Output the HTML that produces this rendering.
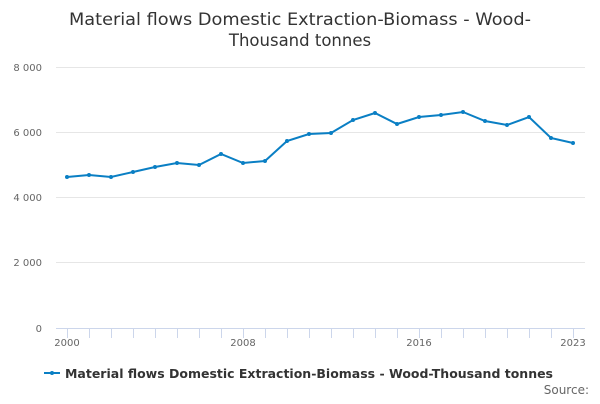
<!DOCTYPE html>
<html><head><meta charset="utf-8"><style>
body{margin:0;background:#fff;width:600px;height:400px;overflow:hidden;font-family:"DejaVu Sans",sans-serif}
</style></head><body>
<svg width="600" height="400" xmlns="http://www.w3.org/2000/svg" font-family="DejaVu Sans, sans-serif">
<text x="300" y="25" text-anchor="middle" font-size="16.5" fill="#333" textLength="462" lengthAdjust="spacingAndGlyphs">Material flows Domestic Extraction-Biomass - Wood-</text>
<text x="300" y="46" text-anchor="middle" font-size="16.5" fill="#333">Thousand tonnes</text>
<g stroke="#e6e6e6" stroke-width="1">
<line x1="56" x2="585" y1="67.5" y2="67.5"/>
<line x1="56" x2="585" y1="132.5" y2="132.5"/>
<line x1="56" x2="585" y1="197.5" y2="197.5"/>
<line x1="56" x2="585" y1="262.5" y2="262.5"/>
</g>
<line x1="56" x2="585" y1="328.5" y2="328.5" stroke="#ccd6eb"/>
<g stroke="#ccd6eb">
<line x1="67.5" x2="67.5" y1="328" y2="338"/><line x1="89.5" x2="89.5" y1="328" y2="338"/><line x1="111.5" x2="111.5" y1="328" y2="338"/><line x1="133.5" x2="133.5" y1="328" y2="338"/><line x1="155.5" x2="155.5" y1="328" y2="338"/><line x1="177.5" x2="177.5" y1="328" y2="338"/><line x1="199.5" x2="199.5" y1="328" y2="338"/><line x1="221.5" x2="221.5" y1="328" y2="338"/><line x1="243.5" x2="243.5" y1="328" y2="338"/><line x1="265.5" x2="265.5" y1="328" y2="338"/><line x1="287.5" x2="287.5" y1="328" y2="338"/><line x1="309.5" x2="309.5" y1="328" y2="338"/><line x1="331.5" x2="331.5" y1="328" y2="338"/><line x1="353.5" x2="353.5" y1="328" y2="338"/><line x1="375.5" x2="375.5" y1="328" y2="338"/><line x1="397.5" x2="397.5" y1="328" y2="338"/><line x1="419.5" x2="419.5" y1="328" y2="338"/><line x1="441.5" x2="441.5" y1="328" y2="338"/><line x1="463.5" x2="463.5" y1="328" y2="338"/><line x1="485.5" x2="485.5" y1="328" y2="338"/><line x1="507.5" x2="507.5" y1="328" y2="338"/><line x1="529.5" x2="529.5" y1="328" y2="338"/><line x1="551.5" x2="551.5" y1="328" y2="338"/><line x1="573.5" x2="573.5" y1="328" y2="338"/>
</g>
<g font-size="10" fill="#666" text-anchor="end">
<text x="42" y="71">8 000</text><text x="42" y="136">6 000</text><text x="42" y="201">4 000</text><text x="42" y="266">2 000</text><text x="42" y="332">0</text>
</g>
<g font-size="10" fill="#666" text-anchor="middle">
<text x="67" y="346">2000</text><text x="243" y="346">2008</text><text x="419" y="346">2016</text><text x="573" y="346">2023</text>
</g>
<polyline fill="none" stroke="#0a7fc4" stroke-width="2" points="67,177 89,175 111,177 133,172 155,167 177,163 199,165 221,154 243,163 265,161 287,141 309,134 331,133 353,120 375,113 397,124 419,117 441,115 463,112 485,121 507,125 529,117 551,138 573,143"/>
<g fill="#0a7fc4">
<circle cx="67" cy="177" r="2"/><circle cx="89" cy="175" r="2"/><circle cx="111" cy="177" r="2"/><circle cx="133" cy="172" r="2"/><circle cx="155" cy="167" r="2"/><circle cx="177" cy="163" r="2"/><circle cx="199" cy="165" r="2"/><circle cx="221" cy="154" r="2"/><circle cx="243" cy="163" r="2"/><circle cx="265" cy="161" r="2"/><circle cx="287" cy="141" r="2"/><circle cx="309" cy="134" r="2"/><circle cx="331" cy="133" r="2"/><circle cx="353" cy="120" r="2"/><circle cx="375" cy="113" r="2"/><circle cx="397" cy="124" r="2"/><circle cx="419" cy="117" r="2"/><circle cx="441" cy="115" r="2"/><circle cx="463" cy="112" r="2"/><circle cx="485" cy="121" r="2"/><circle cx="507" cy="125" r="2"/><circle cx="529" cy="117" r="2"/><circle cx="551" cy="138" r="2"/><circle cx="573" cy="143" r="2"/>
</g>
<line x1="44" x2="60" y1="373" y2="373" stroke="#0a7fc4" stroke-width="2"/>
<circle cx="52" cy="373" r="2" fill="#0a7fc4"/>
<text x="65" y="378" font-size="12.5" font-weight="bold" fill="#333" textLength="488" lengthAdjust="spacingAndGlyphs">Material flows Domestic Extraction-Biomass - Wood-Thousand tonnes</text>
<text x="589" y="394" font-size="12" fill="#666" text-anchor="end">Source:</text>
</svg>
</body></html>
